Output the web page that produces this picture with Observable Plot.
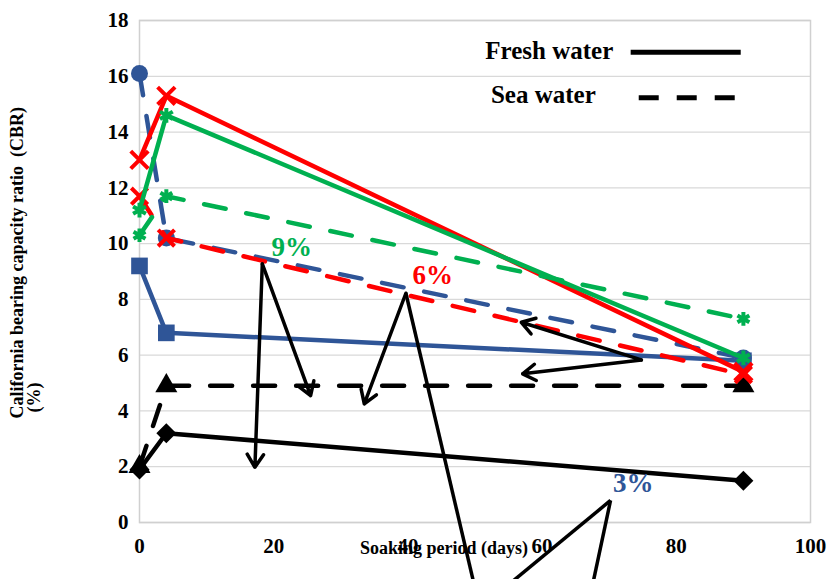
<!DOCTYPE html>
<html>
<head>
<meta charset="utf-8">
<script src="https://cdn.jsdelivr.net/npm/d3@7"></script>
<script src="https://cdn.jsdelivr.net/npm/@observablehq/plot@0.6"></script>
<style>
  html, body { margin: 0; padding: 0; background: #fff; }
  #chart { width: 827px; height: 579px; overflow: hidden; }
  #chart svg text { font-weight: bold; white-space: pre; }
</style>
</head>
<body>
<div id="chart"></div>
<script>
// Soaking period (days) at which CBR was measured
const days = [0, 4, 90];

// CBR (%) for each additive content, soaked in fresh or sea water
const fresh0 = [1.9, 3.2, 1.5];
const sea0   = [2.0, 4.9, 4.9];
const fresh3 = [9.2, 6.8, 5.8];
const sea3   = [16.1, 10.2, 5.9];
const fresh6 = [13.0, 15.3, 5.4];
const sea6   = [11.7, 10.2, 5.3];
const fresh9 = [11.2, 14.6, 5.9];
const sea9   = [10.3, 11.7, 7.3];

// Axis ticks and labels
const xTicks = [0, 20, 40, 60, 80, 100];
const yTicks = [0, 2, 4, 6, 8, 10, 12, 14, 16, 18];
const waterTypes = ["Fresh water", "Sea water"];
const mixLabels = ["3%", "6%", "9%"];
const xTitle = "Soaking period (days)";
const yTitle = ["California bearing capacity ratio  (CBR)", "(%)"];

// Styling
const BLACK = "#000000", BLUE = "#2F5597", RED = "#FF0000", GREEN = "#00B050";
const DASH = "22,21";
const FONT = "'Liberation Serif', 'Times New Roman', serif";

const series = [
  {values: sea0,   water: waterTypes[1], color: BLACK, symbol: "triangle", r: 8.2, filled: true},
  {values: fresh0, water: waterTypes[0], color: BLACK, symbol: "diamond2", r: 9,   filled: true},
  {values: sea3,   water: waterTypes[1], color: BLUE,  symbol: "circle",   r: 8.5, filled: true},
  {values: fresh3, water: waterTypes[0], color: BLUE,  symbol: "square",   r: 9.4, filled: true},
  {values: sea6,   water: waterTypes[1], color: RED,   symbol: "times",    r: 7.5, filled: false},
  {values: fresh6, water: waterTypes[0], color: RED,   symbol: "times",    r: 8,   filled: false},
  {values: sea9,   water: waterTypes[1], color: GREEN, symbol: "asterisk", r: 6.5, filled: false},
  {values: fresh9, water: waterTypes[0], color: GREEN, symbol: "asterisk", r: 7,   filled: false}
];

const seriesMarks = series.flatMap(s => {
  const rows = days.map((d, i) => ({day: d, cbr: s.values[i]}));
  const dashed = s.water === waterTypes[1];
  return [
    Plot.line(rows, {x: "day", y: "cbr", stroke: s.color, strokeWidth: 4.5,
      strokeDasharray: dashed ? DASH : null, strokeLinejoin: "round"}),
    Plot.dot(rows, s.filled
      ? {x: "day", y: "cbr", symbol: () => s.symbol, r: s.r, fill: s.color, stroke: "none"}
      : {x: "day", y: "cbr", symbol: () => s.symbol, r: s.r, fill: "none", stroke: s.color, strokeWidth: 4})
  ];
});

// Pointer arrows from the percentage labels (data units)
const pointerArrows = [
  {x1: 18.3, y1: 9.27, x2: 17.2, y2: 1.98},
  {x1: 18.3, y1: 9.27, x2: 25.5, y2: 4.55},
  {x1: 39.7, y1: 8.22, x2: 33.5, y2: 4.25},
  {x1: 74.8, y1: 5.83, x2: 56.9, y2: 7.18},
  {x1: 74.8, y1: 5.83, x2: 57.1, y2: 5.33}
];
const pointerLines = [
  {x1: 39.7, y1: 8.22, x2: 49.8, y2: -2.15},
  {x1: 70.2, y1: 0.79, x2: 55.4, y2: -2.15},
  {x1: 70.2, y1: 0.79, x2: 67.6, y2: -2.15}
];
const labelSpots = [
  {text: mixLabels[2], x: 22.7, y: 9.87, color: GREEN},
  {text: mixLabels[1], x: 43.7, y: 8.85, color: RED},
  {text: mixLabels[0], x: 73.6, y: 1.40, color: BLUE}
];

// Legend rows (data units)
const legendRows = [
  {text: waterTypes[0], tx: 70.6, ty: 16.92, x1: 73.2, x2: 89.6, y: 16.86, dash: null},
  {text: waterTypes[1], tx: 68.0, ty: 15.33, x1: 74.4, x2: 89.6, y: 15.23, dash: "20,18"}
];

const chart = Plot.plot({
  width: 827,
  height: 579,
  marginLeft: 139,
  marginRight: 17,
  marginTop: 20,
  marginBottom: 57,
  style: {fontFamily: FONT, fontSize: "21px", color: "#000", background: "#fff", overflow: "visible"},
  x: {domain: [0, 100]},
  y: {domain: [0, 18]},
  marks: [
    Plot.gridY(yTicks, {stroke: "#d9d9d9", strokeOpacity: 1, strokeWidth: 1.3}),
    Plot.frame({stroke: "#d0d0d0", strokeWidth: 1.5}),
    Plot.axisX(xTicks, {tickSize: 0, tickPadding: 16, label: null, fontSize: 21, fontWeight: "bold", fontFamily: FONT}),
    Plot.axisY(yTicks, {tickSize: 0, tickPadding: 11, label: null, fontSize: 21, fontWeight: "bold", fontFamily: FONT}),
    ...seriesMarks,
    Plot.arrow(pointerArrows, {x1: "x1", y1: "y1", x2: "x2", y2: "y2", stroke: BLACK, strokeWidth: 3.5, headLength: 6.5, headAngle: 65, bend: 0}),
    Plot.link(pointerLines, {x1: "x1", y1: "y1", x2: "x2", y2: "y2", stroke: BLACK, strokeWidth: 3.5}),
    Plot.text(labelSpots, {x: "x", y: "y", text: "text", fill: d => d.color, fontSize: 27, fontWeight: "bold", fontFamily: FONT}),
    Plot.text(legendRows, {x: "tx", y: "ty", text: "text", textAnchor: "end", fontSize: 25, fontWeight: "bold", fontFamily: FONT, fill: BLACK}),
    Plot.link(legendRows.filter(d => !d.dash), {x1: "x1", x2: "x2", y1: "y", y2: "y", stroke: BLACK, strokeWidth: 5}),
    Plot.link(legendRows.filter(d => d.dash), {x1: "x1", x2: "x2", y1: "y", y2: "y", stroke: BLACK, strokeWidth: 5, strokeDasharray: "20,18"}),
    Plot.text([xTitle], {text: d => d, frameAnchor: "bottom", dx: -31, dy: 31, fontSize: 18, fontWeight: "bold", fontFamily: FONT, fill: BLACK}),
    Plot.text([yTitle[0]], {text: d => d, frameAnchor: "bottom-left", rotate: -90, textAnchor: "start", dx: -117, dy: -104, fontSize: 18, fontWeight: "bold", fontFamily: FONT, fill: BLACK}),
    Plot.text([yTitle[1]], {text: d => d, frameAnchor: "bottom-left", rotate: -90, textAnchor: "start", dx: -100, dy: -110, fontSize: 18, fontWeight: "bold", fontFamily: FONT, fill: BLACK})
  ]
});

document.getElementById("chart").appendChild(chart);
</script>
</body>
</html>
